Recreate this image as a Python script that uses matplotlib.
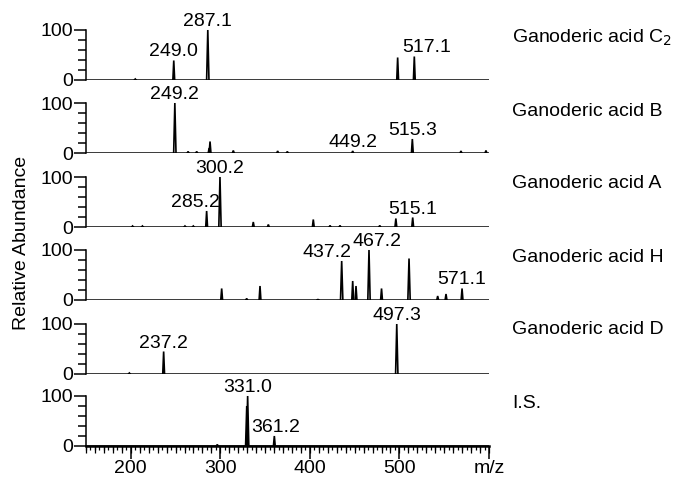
import numpy as np
import matplotlib.pyplot as plt
from matplotlib.ticker import MultipleLocator, FixedLocator

plt.rcParams['font.family'] = ['Liberation Sans', 'DejaVu Sans']

# nombres de cada traza
names = ["Ganoderic acid C$_2$", "Ganoderic acid B", "Ganoderic acid A",
         "Ganoderic acid H", "Ganoderic acid D", "I.S."]

c2_mz = [205, 248, 286, 498, 516.6]
c2_ab = [2, 39, 100, 45, 47]

b_mz = [249.2, 264, 273.6, 287.5, 288.5, 314.5, 364, 374.8, 447.8, 514.4, 568.7, 596.6]
b_ab = [100, 3, 3, 10, 23, 5, 4, 3, 4, 28, 4, 5]

a_mz = [202, 213, 260.5, 269.8, 284.7, 299.6, 336.8, 353.6, 403.8, 422.5, 433.6, 478, 496, 514.8]
a_ab = [2, 2, 2, 2, 32, 100, 10, 5, 15, 3, 3, 3, 17, 19]

h_mz = [301.5, 329.4, 344.3, 409, 435.5, 447.8, 451.5, 466, 480, 510.7, 542.7, 552, 569.9]
h_ab = [23, 3, 28, 1, 78, 38, 28, 100, 23, 83, 8, 12, 23]

d_mz = [198.4, 236.7, 497]
d_ab = [2, 45, 100]

is_mz = [296.6, 329.5, 330.5, 360.3]
is_ab = [3, 80, 100, 20]

all_mz = [c2_mz, b_mz, a_mz, h_mz, d_mz, is_mz]
all_ab = [c2_ab, b_ab, a_ab, h_ab, d_ab, is_ab]

# etiquetas: (texto, m/z del pico, altura del pico)
labels = [
    [("249.0", 248, 39), ("287.1", 286, 100), ("517.1", 516.6, 47)],
    [("249.2", 249.2, 100), ("449.2", 447.8, 4), ("515.3", 514.4, 28)],
    [("285.2", 284.7, 32), ("300.2", 299.6, 100), ("515.1", 514.8, 19)],
    [("437.2", 435.5, 78), ("467.2", 466, 100), ("571.1", 569.9, 23)],
    [("237.2", 236.7, 45), ("497.3", 497, 100)],
    [("331.0", 330.5, 100), ("361.2", 360.3, 20)],
]
# desplazamiento horizontal de algunas etiquetas (en m/z)
label_dx = {"517.1": 14, "285.2": -13, "437.2": -16, "467.2": 9, "361.2": 1}

XMIN, XMAX = 150, 600
W, H = 674, 479
left, right = 86, 489
zero_px = [80, 153, 227, 300, 374, 446]
panel_h = 73
FS = 14

fig = plt.figure(figsize=(W / 100, H / 100), dpi=100)

for i in range(6):
    y0 = 1 - zero_px[i] / H
    ax = fig.add_axes([left / W, y0, (right - left) / W, panel_h / H])
    ax.set_xlim(XMIN, XMAX)
    ax.set_ylim(0, 100 * panel_h / 50)
    ax.patch.set_alpha(0)

    # perfil del espectro: triangulos estrechos
    for mz, ab in zip(all_mz[i], all_ab[i]):
        w = 1.3 if ab > 50 else 1.0
        ax.plot([mz - w, mz, mz + w], [0, ab, 0], color='black', lw=1.2,
                solid_joinstyle='miter')
    ax.axhline(0, color='black', lw=1.8, zorder=3)

    for txt, mz, ab in labels[i]:
        ax.annotate(txt, (mz + label_dx.get(txt, 0), ab), xytext=(0, 0),
                    textcoords='offset points', ha='center', va='bottom',
                    fontsize=FS, annotation_clip=False)

    for s in ['top', 'right', 'bottom']:
        ax.spines[s].set_visible(False)
    ax.spines['left'].set_bounds(0, 100)
    ax.spines['left'].set_linewidth(1.1)
    ax.yaxis.set_major_locator(FixedLocator([0, 100]))
    ax.yaxis.set_minor_locator(FixedLocator([20, 40, 60, 80]))
    ax.tick_params(axis='y', which='major', length=9, width=1.1, labelsize=FS, pad=0)
    ax.tick_params(axis='y', which='minor', length=5.5, width=1.1)

    if i < 5:
        ax.set_xticks([])
    else:
        ax.spines['bottom'].set_visible(True)
        ax.spines['bottom'].set_linewidth(1.8)
        ax.xaxis.set_major_locator(FixedLocator([200, 300, 400, 500, 600]))
        ax.set_xticklabels(['200', '300', '400', '500', ''])
        ax.xaxis.set_minor_locator(MultipleLocator(5))
        ax.tick_params(axis='x', which='major', length=9, width=1.1, labelsize=FS, pad=1)
        ax.tick_params(axis='x', which='minor', length=3, width=0.9)
        sec = ax.secondary_xaxis('bottom')
        sec.xaxis.set_major_locator(MultipleLocator(10))
        sec.tick_params(length=5, width=0.9, labelbottom=False)
        sec.spines['bottom'].set_visible(False)
        ax.text(1.0, -0.31, "m/z", transform=ax.transAxes, ha='center', va='center',
                fontsize=FS)

    ax.text(512 / W, 1 - (38 + 73 * i) / H, names[i], transform=fig.transFigure,
            ha='left', va='center', fontsize=FS)

fig.text(22 / W, 1 - 243 / H, "Relative Abundance", rotation=90, ha='center',
         va='center', fontsize=FS)

fig.savefig("out.png", dpi=100)
